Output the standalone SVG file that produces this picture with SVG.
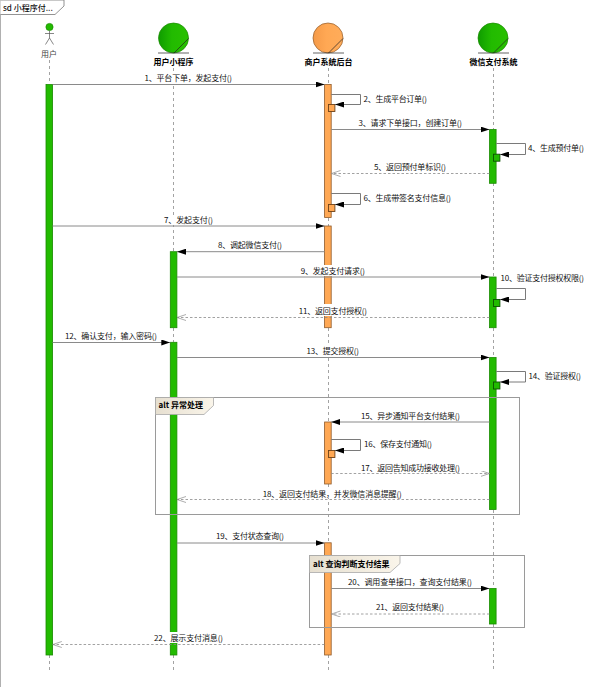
<svg xmlns="http://www.w3.org/2000/svg" width="605" height="687" viewBox="0 0 605 687">
<style>
text{font-family:"Noto Sans CJK SC","Liberation Sans",sans-serif;font-size:8px;fill:#111}
.b{font-weight:700;fill:#000}
.ll{stroke:#8c8c8c;stroke-width:.8;stroke-dasharray:3 3;fill:none}
.g{fill:#22bb00;stroke:#1a8a00;stroke-width:.8}
.o{fill:#ffa854;stroke:#8f5a2a;stroke-width:.8}
.gs{fill:#22bb00;stroke:#0c5200;stroke-width:.9}
.os{fill:#ffa854;stroke:#6e4218;stroke-width:.9}
.m{stroke:#8a8a8a;stroke-width:1;fill:none}
.r{stroke:#8a8a8a;stroke-width:.8;stroke-dasharray:2.5 2;fill:none}
.s{stroke:#7a7a7a;stroke-width:1;fill:none}
.f{stroke:#9a9a9a;stroke-width:1;fill:none}
.t{stroke:#a8a8a8;stroke-width:.8;fill:url(#tab)}
.h{fill:#fff}
.d{stroke:#222;stroke-width:.7;fill:none}
</style>
<defs>
<linearGradient id="gg"><stop offset="0" stop-color="#0f9c00"/><stop offset=".45" stop-color="#22bb00"/><stop offset="1" stop-color="#28c000"/></linearGradient>
<linearGradient id="og"><stop offset="0" stop-color="#f59a48"/><stop offset=".45" stop-color="#ffa854"/><stop offset="1" stop-color="#ffac5a"/></linearGradient>
<linearGradient id="tab"><stop offset="0" stop-color="#e6dfd0"/><stop offset="1" stop-color="#faf5ea"/></linearGradient>
<marker id="a" markerWidth="9" markerHeight="6" refX="9" refY="3" orient="auto" markerUnits="userSpaceOnUse"><path d="M0 0L9 3L0 6z" fill="#000"/></marker>
<marker id="o" markerWidth="10" markerHeight="7" refX="9" refY="3" orient="auto" markerUnits="userSpaceOnUse"><path d="M0 0L9 3L0 6" fill="none" stroke="#8a8a8a" stroke-width=".7"/></marker>
</defs>
<rect width="605" height="687" fill="#fff"/>
<path id="outer-frame" d="M.5 0V687" stroke="#b0b0b0" stroke-width="1" fill="none"/>
<g id="frame-title"><path d="M.5 0H64V6L55 14.500H.5" fill="#fff" stroke="#777" stroke-width=".8"/><text x="3" y="11" style="font-weight:500">sd 小程序付...</text></g>

<g id="user">
<path class="ll" d="M49.500 60V84M49.500 655V671"/>
<circle cx="49.500" cy="27" r="3.600" fill="#22bb00" stroke="#1a8a00" stroke-width=".7"/>
<path d="M49.500 30.600V38M45 33.500H54M49.500 38L45.500 44.500M49.500 38L53.500 44.500" stroke="#555" stroke-width=".7" fill="none"/>
<text x="41" y="57" style="fill:#444">用户</text>
<rect class="g" x="46" y="84.500" width="6.600" height="570.500"/>
</g>
<g id="mini-program">
<path class="ll" d="M173.500 68V251.500M173.500 328V342M173.500 655V671"/>
<circle cx="173.500" cy="38" r="15" fill="url(#gg)" stroke="#1a8a00" stroke-width=".7"/>
<path class="d" d="M158 53H189M174 53L188.500 38.500"/>
<text class="b" x="153.500" y="65">用户小程序</text>
<rect class="g" x="170.300" y="251.700" width="6.600" height="76"/>
<rect class="g" x="170.300" y="342.300" width="6.600" height="312.700"/>
</g>
<g id="merchant">
<path class="ll" d="M328.500 68V84M328.500 218V226M328.500 328V422M328.500 484V543M328.500 655V671"/>
<circle cx="328" cy="38" r="15" fill="url(#og)" stroke="#8f5a2a" stroke-width=".7"/>
<path class="d" d="M313 53H344M328.500 53L343 38.500"/>
<text class="b" x="304.500" y="65">商户系统后台</text>
<rect class="o" x="324.600" y="84.500" width="6.600" height="133"/>
<rect class="o" x="324.600" y="226" width="6.600" height="101.700"/>
<rect class="o" x="324.600" y="422" width="6.600" height="62"/>
<rect class="o" x="324.600" y="542.800" width="6.600" height="112.200"/>
<rect class="os" x="328.500" y="104.500" width="6.400" height="7"/>
<rect class="os" x="328.500" y="204.500" width="6.400" height="7"/>
<rect class="os" x="328.500" y="450.500" width="6.400" height="7"/>
</g>
<g id="wechat-pay">
<path class="ll" d="M493.500 68V129.500M493.500 183V277M493.500 328V357M493.500 510V588M493.500 624V671"/>
<circle cx="493" cy="38" r="15" fill="url(#gg)" stroke="#1a8a00" stroke-width=".7"/>
<path class="d" d="M478 53H509M493.500 53L508 38.500"/>
<text class="b" x="469.500" y="65">微信支付系统</text>
<rect class="g" x="489.500" y="129.500" width="6.600" height="53.800"/>
<rect class="g" x="489.500" y="277" width="6.600" height="50.700"/>
<rect class="g" x="489.500" y="357.500" width="6.600" height="152"/>
<rect class="g" x="489.500" y="588.500" width="6.600" height="35.500"/>
<rect class="gs" x="493.500" y="154.200" width="6.400" height="7"/>
<rect class="gs" x="493.500" y="299.500" width="6.400" height="7"/>
<rect class="gs" x="493.500" y="382" width="6.400" height="7"/>
</g>

<g id="alt-exception">
<rect class="f" x="155.500" y="397.500" width="364" height="117"/>
<path class="t" d="M155.500 397.500H213.500V405.500L204 414.500H155.500z"/>
<text class="b" x="158.500" y="408">alt 异常处理</text>
</g>
<g id="alt-query">
<rect class="f" x="309.500" y="555.500" width="215" height="72"/>
<path class="t" d="M309.500 555.500H400V563.500L390 572.500H309.500z"/>
<text class="b" x="313" y="567">alt 查询判断支付结果</text>
</g>

<g id="connectors">
<path class="m" marker-end="url(#a)" d="M52.600 84.500H324.600"/>
<path class="s" marker-end="url(#a)" d="M331.200 94.500H360.500V104.500H335"/>
<path class="m" marker-end="url(#a)" d="M331.200 129.500H489.500"/>
<path class="s" marker-end="url(#a)" d="M496.100 143.500H525.500V154.500H500"/>
<path class="r" marker-end="url(#o)" d="M489.500 173.500H331.500"/>
<path class="s" marker-end="url(#a)" d="M331.200 193.500H360.500V204.500H335"/>
<path class="m" marker-end="url(#a)" d="M52.600 226H324.600"/>
<path class="m" marker-end="url(#a)" d="M324.600 251.700H177"/>
<path class="m" marker-end="url(#a)" d="M176.900 277H489.500"/>
<path class="s" marker-end="url(#a)" d="M496.100 288.500H525.500V299.500H500"/>
<path class="r" marker-end="url(#o)" d="M489.500 317.500H177"/>
<path class="m" marker-end="url(#a)" d="M52.600 342.500H170.300"/>
<path class="m" marker-end="url(#a)" d="M176.900 357.500H489.500"/>
<path class="s" marker-end="url(#a)" d="M496.100 371.500H525.500V382H500"/>
<path class="m" marker-end="url(#a)" d="M489.500 422H331.200"/>
<path class="s" marker-end="url(#a)" d="M331.200 439.500H360.500V450.500H335"/>
<path class="r" marker-end="url(#o)" d="M331.200 473.500H489.500"/>
<path class="r" marker-end="url(#o)" d="M489.500 499.500H177"/>
<path class="m" marker-end="url(#a)" d="M176.900 543H324.600"/>
<path class="m" marker-end="url(#a)" d="M331.200 588.500H489.500"/>
<path class="r" marker-end="url(#o)" d="M489.500 614H331.500"/>
<path class="r" marker-end="url(#o)" d="M324.600 644.500H52.800"/>

<g id="labels">
<rect class="h" x="144" y="73" width="88" height="10"/>
<rect class="h" x="164" y="215" width="50" height="10"/>
<rect class="h" x="300" y="265" width="65" height="11"/>
<rect class="h" x="298" y="304" width="70" height="12"/>
<rect class="h" x="306" y="345" width="54" height="11"/>
<rect class="h" x="262" y="488" width="140" height="10"/>
<rect class="h" x="154" y="632" width="69" height="11"/>
<text x="144.500" y="80.500" textLength="87.500">1、平台下单，发起支付()</text>
<text x="363.500" y="102" textLength="63.500">2、生成平台订单()</text>
<text x="358.500" y="126" textLength="103.500">3、请求下单接口，创建订单()</text>
<text x="528" y="151" textLength="56">4、生成预付单()</text>
<text x="374" y="170" textLength="72">5、返回预付单标识()</text>
<text x="363.500" y="201" textLength="87.500">6、生成带签名支付信息()</text>
<text x="164" y="222.500" textLength="49">7、发起支付()</text>
<text x="218" y="248" textLength="64">8、调起微信支付()</text>
<text x="300.700" y="273.500" textLength="64.300">9、发起支付请求()</text>
<text x="500.500" y="281" textLength="83.500">10、验证支付授权权限()</text>
<text x="298.700" y="313.500" textLength="68.300">11、返回支付授权()</text>
<text x="65" y="338.500" textLength="92">12、确认支付，输入密码()</text>
<text x="306.500" y="354" textLength="52.500">13、提交授权()</text>
<text x="528.500" y="379" textLength="52.500">14、验证授权()</text>
<text x="361" y="418.500" textLength="99">15、异步通知平台支付结果()</text>
<text x="364" y="447" textLength="68">16、保存支付通知()</text>
<text x="361" y="470.500" textLength="99">17、返回告知成功接收处理()</text>
<text x="262.700" y="496.500" textLength="139">18、返回支付结果，并发微信消息提醒()</text>
<text x="216" y="539" textLength="68">19、支付状态查询()</text>
<text x="348" y="585" textLength="124">20、调用查单接口，查询支付结果()</text>
<text x="376" y="610" textLength="68">21、返回支付结果()</text>
<text x="154" y="641" textLength="69">22、展示支付消息()</text>
</g>
</g>
</svg>
